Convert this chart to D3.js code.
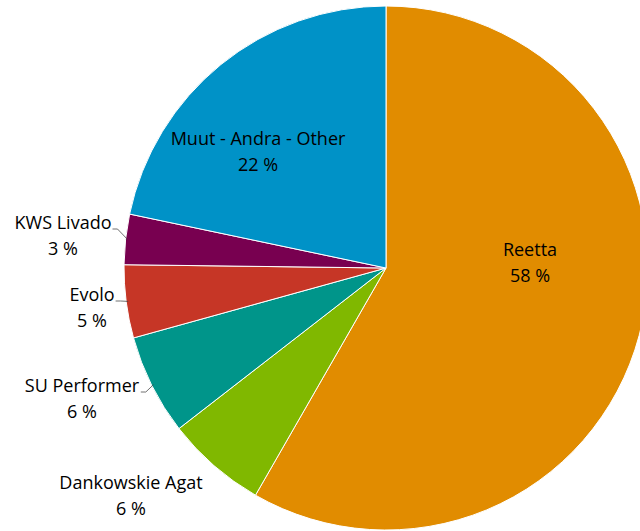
<!DOCTYPE html>
<html>
<head>
<meta charset="utf-8">
<script src="https://cdn.jsdelivr.net/npm/d3@7"></script>
<style>
body { margin: 0; background: #fff; }
</style>
</head>
<body>
<div id="chart"></div>
<script>
var width = 640
var height = 531

var names = ['Reetta', 'Dankowskie Agat', 'SU Performer', 'Evolo', 'KWS Livado', 'Muut - Andra - Other']
var values = [58.3, 6.2, 6.2, 4.5, 3.1, 21.7]
var pct_labels = ['58 %', '6 %', '6 %', '5 %', '3 %', '22 %']
var colors = ['#e18c00', '#80b800', '#00958a', '#c63626', '#780050', '#0092c7']

// label anchor spots (inside = in the slice, outside = left of the pie)
var label_pos = [[530, 250], [131, 483], [82, 386], [92, 295], [63, 223], [258, 139]]
var leader = [false, false, true, true, true, false]

var cx = 386, cy = 268, radius = 262

var data = names.map(function(d, i) { return {name: d, value: values[i], pct: pct_labels[i], color: colors[i], pos: label_pos[i], leader: leader[i]} })

var svg = d3.select('#chart')
  .append('svg')
  .attr('width', width)
  .attr('height', height)

var pie = d3.pie()
  .sort(null)
  .value(function(d) { return d.value })

var arc = d3.arc()
  .innerRadius(0)
  .outerRadius(radius)

var g = svg.append('g')
  .attr('transform', 'translate(' + cx + ',' + cy + ')')

g.selectAll('path')
  .data(pie(data))
  .enter()
  .append('path')
  .attr('d', arc)
  .attr('fill', function(d) { return d.data.color })
  .attr('stroke', '#fff')
  .attr('stroke-width', 1)

var font = "'Open Sans', sans-serif"

// labels
var labels = svg.selectAll('.lab')
  .data(pie(data))
  .enter()
  .append('g')
  .attr('class', 'lab')

labels.append('text')
  .attr('x', function(d) { return d.data.pos[0] })
  .attr('y', function(d) { return d.data.pos[1] })
  .attr('dy', '0.35em')
  .attr('text-anchor', 'middle')
  .style('font-family', font)
  .style('font-size', '18px')
  .attr('fill', '#000')
  .text(function(d) { return d.data.name })

labels.append('text')
  .attr('x', function(d) { return d.data.pos[0] })
  .attr('y', function(d) { return d.data.pos[1] + 26 })
  .attr('dy', '0.35em')
  .attr('text-anchor', 'middle')
  .style('font-family', font)
  .style('font-size', '18px')
  .attr('fill', '#000')
  .text(function(d) { return d.data.pct })

// little leader lines from the label to the slice edge
labels.filter(function(d) { return d.data.leader })
  .each(function(d) {
    var node = d3.select(this).select('text').node()
    var bb = node.getBBox()
    var mid = (d.startAngle + d.endAngle) / 2
    var ex = cx + Math.sin(mid) * (radius - 2)
    var ey = cy - Math.cos(mid) * (radius - 2)
    var sx = bb.x + bb.width + 1
    var sy = d.data.pos[1] + 6
    d3.select(this).append('polyline')
      .attr('points', [[sx, sy], [sx + 5, sy], [ex, ey]].map(function(p) { return p.join(',') }).join(' '))
      .attr('fill', 'none')
      .attr('stroke', '#404040')
      .attr('stroke-width', 0.75)
  })
</script>
</body>
</html>
